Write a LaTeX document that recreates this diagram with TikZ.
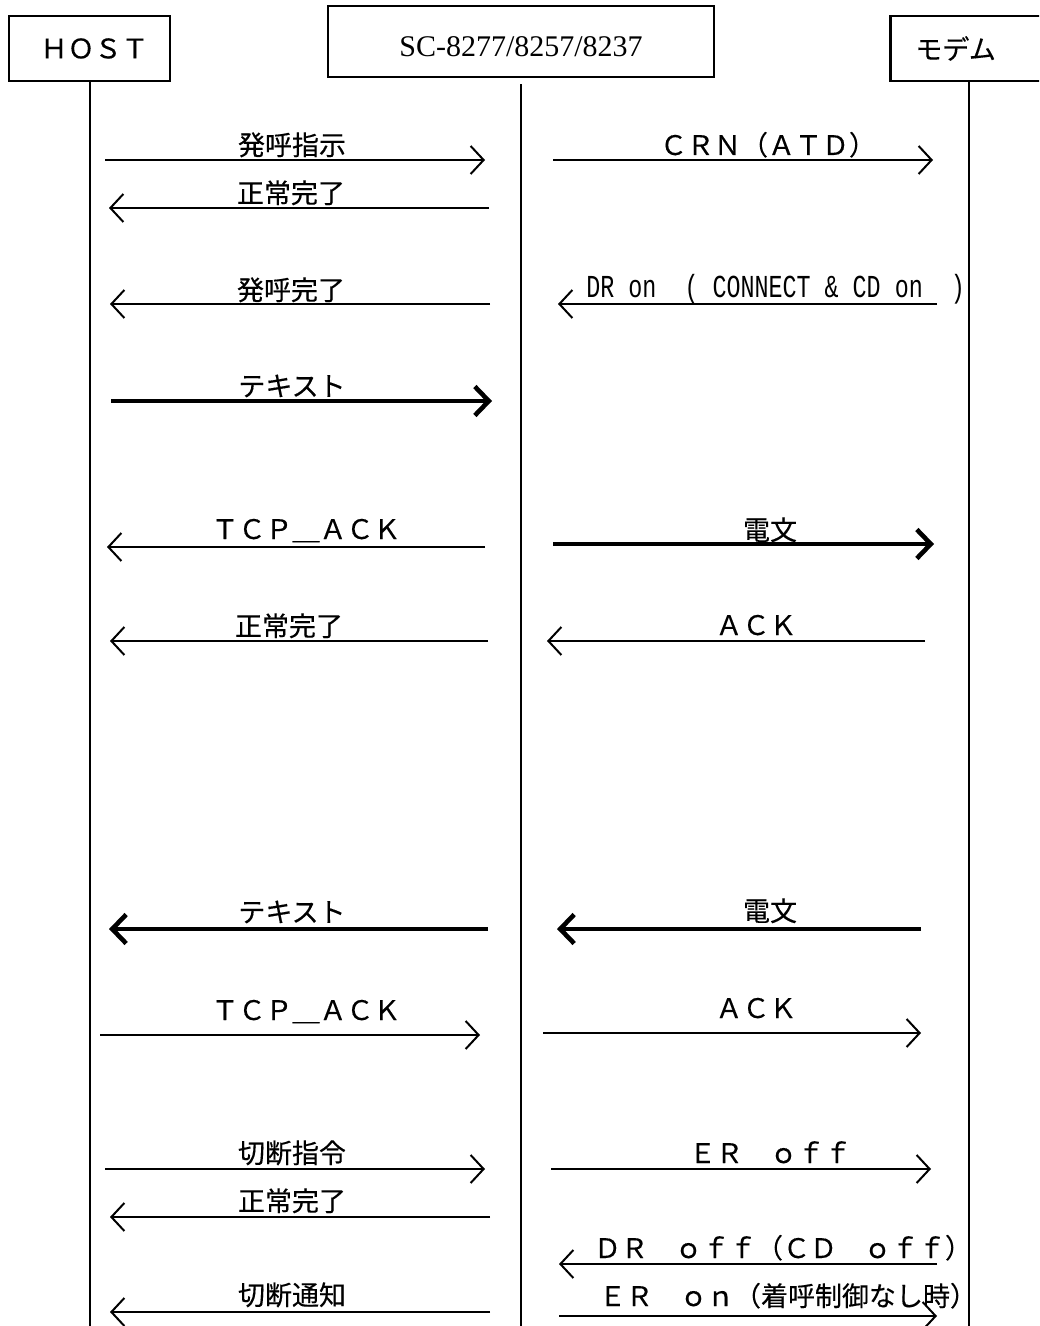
\documentclass[tikz,border=0pt]{standalone}
\usepackage{graphicx}
\usepackage{fontspec}
\setmainfont{Liberation Serif}
\newfontfamily\jpfont[FakeBold=0.3]{Noto Sans CJK JP}
\newfontfamily\monofont{Liberation Mono}
\usetikzlibrary{arrows.meta}

\begin{document}
\begin{tikzpicture}[x=0.5pt, y=-0.5pt,
    box/.style={draw, line width=1.4pt, inner sep=0pt},
    life/.style={line width=1pt},
    msg/.style={line width=1pt, -{Straight Barb[length=6.5pt, width=14pt]}},
    bigmsg/.style={line width=2.3pt, -{Straight Barb[length=7pt, width=14.5pt]}},
    lbl/.style={anchor=base, inner sep=0pt, font=\jpfont\fontsize{13.5pt}{16pt}\selectfont}]
    \useasboundingbox (0,0) rectangle (1039,1326);
    \clip (0,0) rectangle (1039,1326);

    % heads of the three lanes
    \node[box, minimum width=80.5pt, minimum height=32.5pt, font=\jpfont\fontsize{13.5pt}{15pt}\selectfont] (host) at (89.5,48.5) {\hspace*{5pt}ＨＯＳＴ};
    \node[box, minimum width=193pt, minimum height=35.5pt, font=\fontsize{15pt}{17pt}\selectfont, text height=15pt, text depth=0pt] (sc) at (521,41.5) {SC-8277/8257/8237};
    \node[box, anchor=west, minimum height=32.5pt, inner xsep=12.5pt, text width=75pt, align=left, font=\jpfont\fontsize{13.5pt}{15pt}\selectfont] (modem) at (889,48.5) {モデム};

    % lifelines
    \coordinate (bot) at (0,1330);
    \draw[life] (host.south) -- (host.south |- bot);
    \draw[life] ([yshift=-3pt]sc.south) -- (sc.south |- bot);
    \draw[life] ([xshift=40pt]modem.south west) -- ([xshift=40pt]modem.south west |- bot);

    % call set-up
    \draw[msg] (105,160) -- (485,160);
    \node[lbl] (m1) at (292,155) {発呼指示};
    \draw[msg] (553,160) -- (933,160);
    \node[lbl] (m2) at (768,155) {ＣＲＮ（ＡＴＤ）};
    \draw[msg] (489,208) -- (109,208);
    \node[lbl] (m3) at (291,203) {正常完了};
    \draw[msg] (490,304) -- (110,304);
    \node[lbl] (m4) at (291,300) {発呼完了};
    \draw[msg] (937,304) -- (558,304);
    \node[anchor=base west, inner sep=0pt, font=\monofont\fontsize{16pt}{18pt}\selectfont] (m5) at (586,298) {\scalebox{0.73}[1]{DR~on~~(~CONNECT~\&~CD~on~~)}};

    % sending
    \draw[bigmsg] (111,401) -- (492,401);
    \node[lbl] (m6) at (292,396) {テキスト};
    \draw[msg] (485,547) -- (107,547);
    \node[lbl] (m7) at (306,539) {ＴＣＰ＿ＡＣＫ};
    \draw[bigmsg] (553,544) -- (934,544);
    \node[lbl] (m8) at (770,540) {電文};
    \draw[msg] (488,641) -- (110,641);
    \node[lbl] (m9) at (289,636) {正常完了};
    \draw[msg] (925,641) -- (547,641);
    \node[lbl] (m10) at (756,635) {ＡＣＫ};

    % receiving
    \draw[bigmsg] (488,929) -- (109,929);
    \node[lbl] (m11) at (292,922) {テキスト};
    \draw[bigmsg] (921,929) -- (557,929);
    \node[lbl] (m12) at (770,921) {電文};
    \draw[msg] (100,1035) -- (480,1035);
    \node[lbl] (m13) at (306,1020) {ＴＣＰ＿ＡＣＫ};
    \draw[msg] (543,1033) -- (921,1033);
    \node[lbl] (m14) at (756,1018) {ＡＣＫ};

    % clearing
    \draw[msg] (105,1169) -- (485,1169);
    \node[lbl] (m15) at (292,1163) {切断指令};
    \draw[msg] (551,1169) -- (931,1169);
    \node[lbl] (m16) at (770,1163) {ＥＲ　ｏｆｆ};
    \draw[msg] (490,1217) -- (110,1217);
    \node[lbl] (m17) at (292,1211) {正常完了};
    \draw[msg] (937,1264) -- (559,1264);
    \node[lbl] (m18) at (783,1258) {ＤＲ　ｏｆｆ（ＣＤ　ｏｆｆ）};
    \draw[msg] (490,1312) -- (110,1312);
    \node[lbl] (m19) at (292,1305) {切断通知};
    \draw[msg] (559,1316) -- (937,1316);
    \node[lbl] (m20) at (788,1306) {ＥＲ　ｏｎ（着呼制御なし時）};
\end{tikzpicture}
\end{document}
